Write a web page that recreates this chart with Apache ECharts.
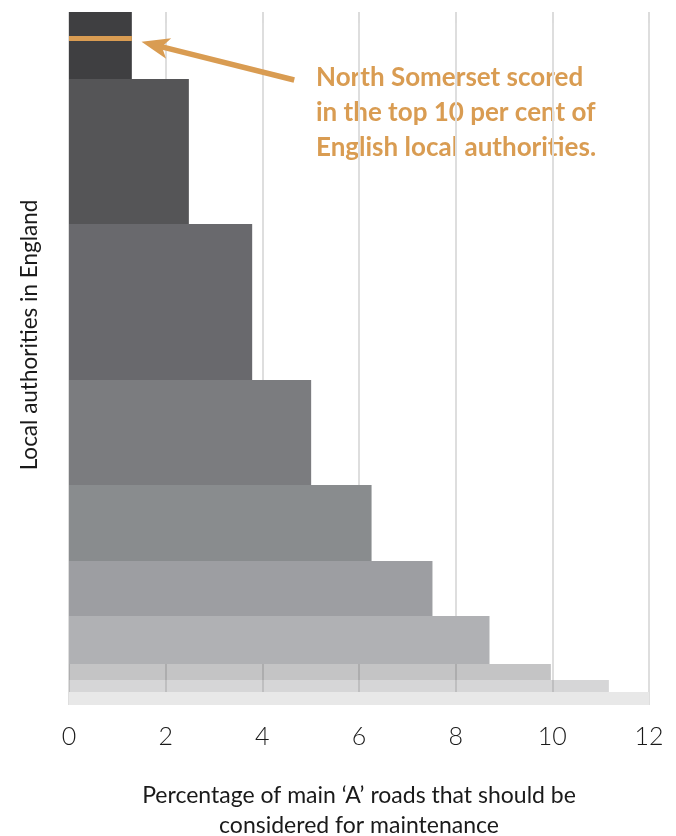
<!DOCTYPE html>
<html>
<head>
<meta charset="utf-8">
<script src="https://cdn.jsdelivr.net/npm/echarts@6/dist/echarts.min.js"></script>
<style>
  html, body { margin: 0; padding: 0; background: #ffffff; }
  #chart { width: 676px; height: 836px; }
</style>
</head>
<body>
<div id="chart"></div>
<script>
// ---- Data ----
// Percentage of main 'A' roads that should be considered for maintenance (bar length)
const scoreValues = [1.30, 2.48, 3.79, 5.01, 6.26, 7.52, 8.70, 9.97, 11.17, 12.0];
// Relative number of local authorities in each band (bar thickness)
const authorityCounts = [67, 145, 156, 105, 76, 55, 48, 16, 12, 13];
// X axis tick labels
const xTicks = [0, 2, 4, 6, 8, 10, 12];
// North Somerset's place within the ranking (in the same units as authorityCounts)
const northSomersetRank = 26.5;

// ---- Styles ----
const barColors = ['#3f3f41', '#555557', '#69696d', '#7b7c7f', '#898c8e', '#9d9ea2', '#b0b1b4',
                   'rgba(58,59,62,0.30)', 'rgba(118,119,124,0.30)', '#e8e8e8'];
const orange = '#d99c52';

// build [score, start, end] rows from the arrays
const totalCount = authorityCounts.reduce((a, b) => a + b, 0);
const barRows = [];
let acc = 0;
for (let i = 0; i < scoreValues.length; i++) {
  barRows.push([scoreValues[i], acc, acc + authorityCounts[i]]);
  acc += authorityCounts[i];
}

const chart = echarts.init(document.getElementById('chart'), null, { renderer: 'canvas' });

const option = {
  animation: false,
  backgroundColor: '#ffffff',
  grid: { left: 69, right: 27, top: 12, bottom: 131, containLabel: false, outerBoundsMode: 'none' },
  xAxis: {
    type: 'value',
    min: 0,
    max: 12,
    interval: 2,
    axisLine: { show: false },
    axisTick: { show: true, length: 11, lineStyle: { color: '#dcdcdc', width: 2 } },
    splitLine: { show: true, lineStyle: { color: '#dedede', width: 2 } },
    axisLabel: {
      margin: 19,
      fontFamily: 'Lato',
      fontSize: 25,
      fontWeight: 300,
      color: '#1a1a1a',
      formatter: function (v) { return xTicks.indexOf(v) >= 0 ? String(v) : ''; }
    },
    name: 'Percentage of main \u2018A\u2019 roads that should be\nconsidered for maintenance',
    nameLocation: 'middle',
    nameGap: 76,
    nameTextStyle: { fontFamily: 'Lato', fontSize: 23, color: '#1a1a1a', lineHeight: 30 }
  },
  yAxis: {
    type: 'value',
    inverse: true,
    min: 0,
    max: totalCount,
    show: false
  },
  series: [
    {
      type: 'custom',
      name: 'bands',
      data: barRows,
      z: 2,
      renderItem: function (params, api) {
        const p0 = api.coord([0, api.value(1)]);
        const p1 = api.coord([api.value(0), api.value(2)]);
        return {
          type: 'rect',
          shape: { x: p0[0], y: p0[1], width: p1[0] - p0[0], height: p1[1] - p0[1] },
          style: { fill: barColors[params.dataIndex] }
        };
      }
    },
    {
      type: 'custom',
      name: 'annotation',
      data: [[scoreValues[0], northSomersetRank]],
      z: 5,
      renderItem: function (params, api) {
        const a = api.coord([0, api.value(1)]);
        const b = api.coord([api.value(0), api.value(1)]);
        // arrow (annotation) anchored in data space
        const tip = api.coord([1.50, 29.7]);
        const tail = api.coord([4.66, 68]);
        const dx = tail[0] - tip[0], dy = tail[1] - tip[1];
        const len = Math.sqrt(dx * dx + dy * dy);
        const ux = dx / len, uy = dy / len;
        const nx = -uy, ny = ux;
        const L = 28, W = 10.5, notch = 7;
        const head = [
          [tip[0], tip[1]],
          [tip[0] + ux * L + nx * W, tip[1] + uy * L + ny * W],
          [tip[0] + ux * (L - notch), tip[1] + uy * (L - notch)],
          [tip[0] + ux * L - nx * W, tip[1] + uy * L - ny * W]
        ];
        const shaftEnd = [tip[0] + ux * (L - notch - 2), tip[1] + uy * (L - notch - 2)];
        return {
          type: 'group',
          children: [
            {
              type: 'line',
              shape: { x1: a[0], y1: a[1], x2: b[0], y2: b[1] },
              style: { stroke: orange, lineWidth: 5 }
            },
            {
              type: 'line',
              shape: { x1: tail[0], y1: tail[1], x2: shaftEnd[0], y2: shaftEnd[1] },
              style: { stroke: orange, lineWidth: 5.5, lineCap: 'butt' }
            },
            {
              type: 'polygon',
              shape: { points: head },
              style: { fill: orange }
            }
          ]
        };
      }
    }
  ],
  graphic: [
    {
      type: 'text',
      left: 316,
      top: 60,
      style: {
        text: 'North Somerset scored\nin the top 10 per cent of\nEnglish local authorities.',
        fontFamily: 'Lato',
        fontWeight: 'bold',
        fontSize: 26,
        lineHeight: 35,
        fill: orange
      }
    },
    {
      type: 'text',
      x: 30,
      y: 335,
      rotation: Math.PI / 2,
      style: {
        text: 'Local authorities in England',
        fontFamily: 'Lato',
        fontSize: 22.5,
        fill: '#1a1a1a',
        align: 'center',
        verticalAlign: 'middle'
      }
    }
  ]
};

chart.setOption(option);
</script>
</body>
</html>
